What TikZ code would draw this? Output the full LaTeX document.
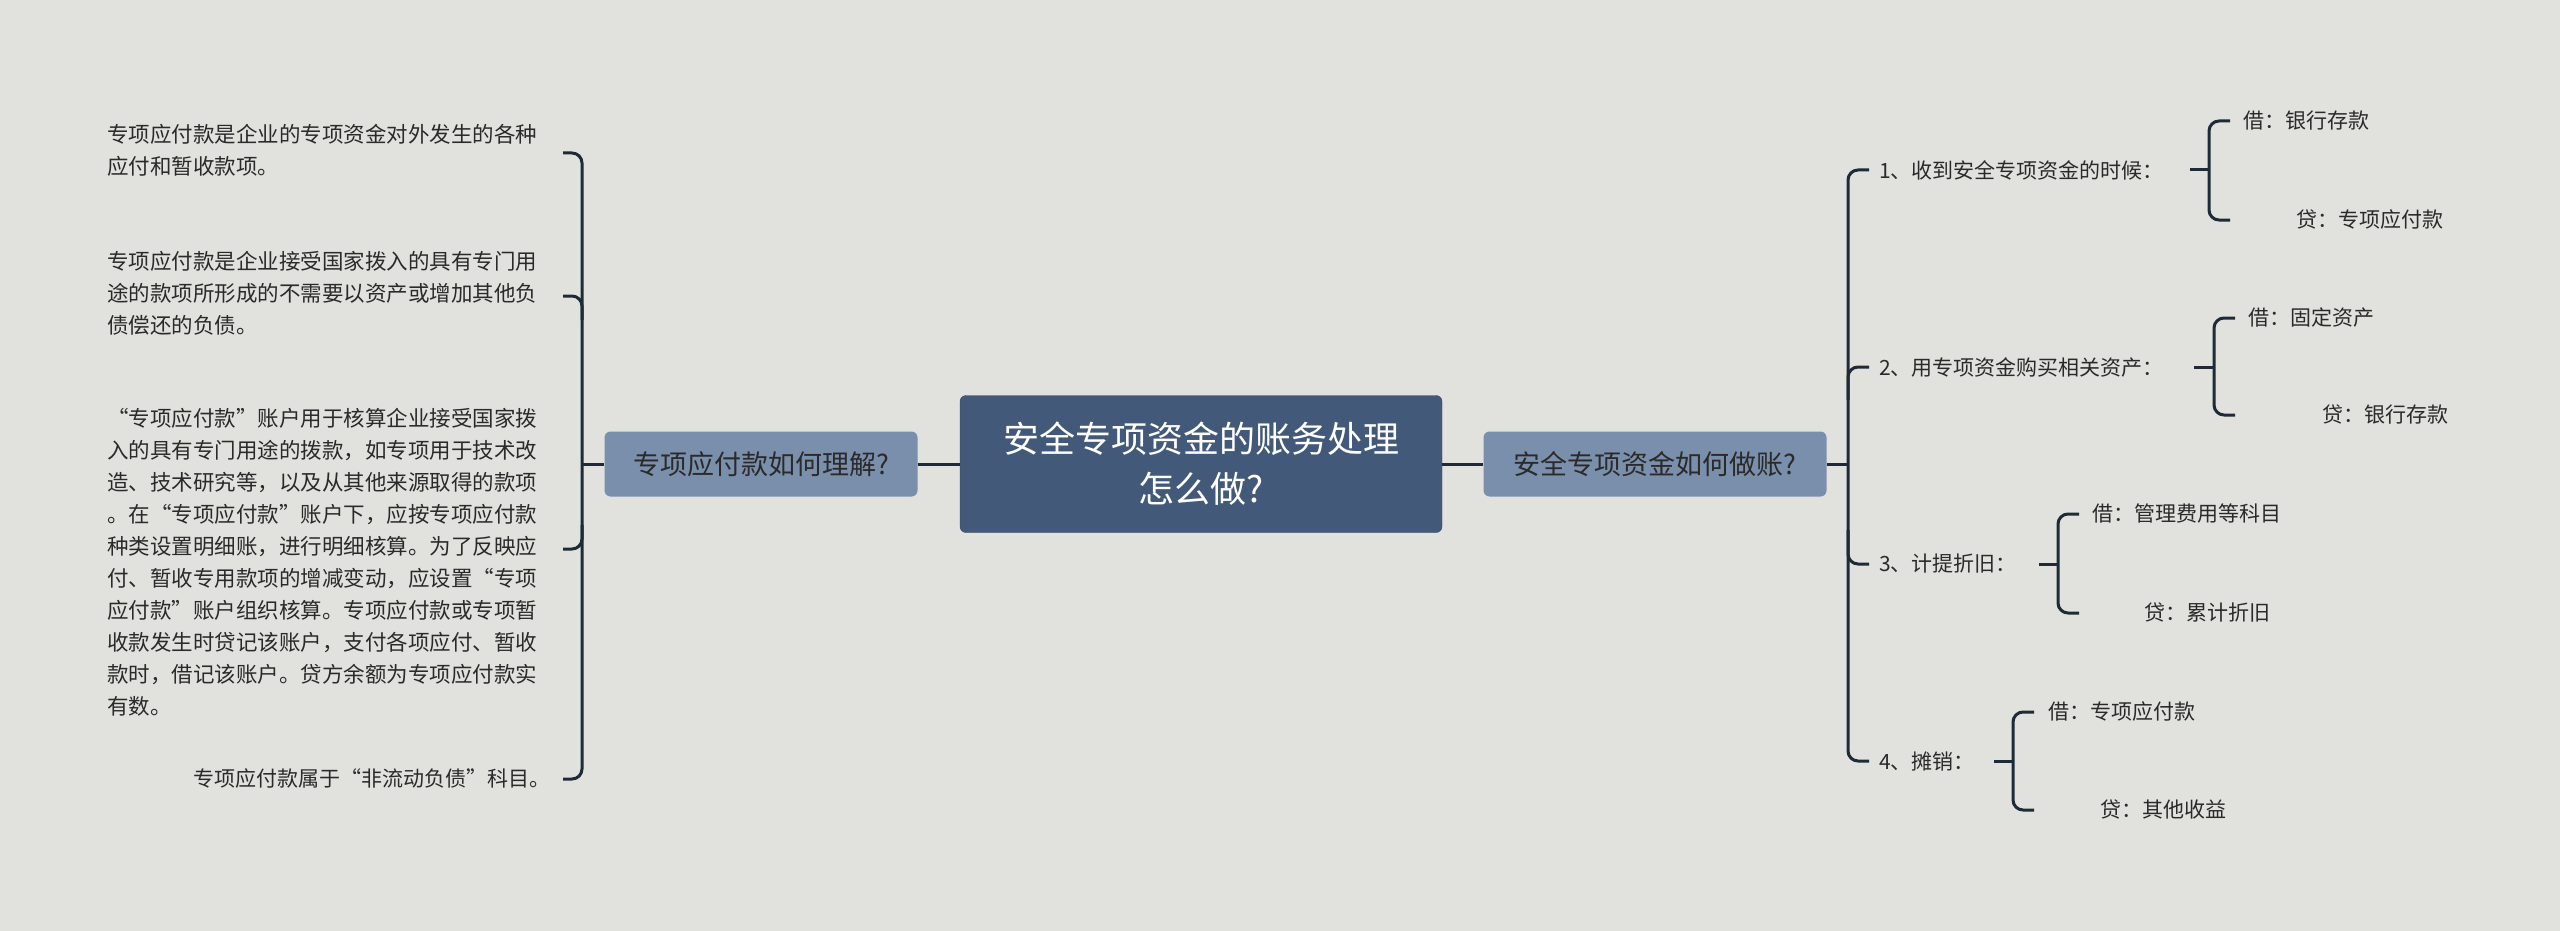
\documentclass[tikz,border=0pt]{standalone}
\usepackage{fontspec}
\setmainfont{Noto Sans CJK SC}
\begin{document}
\begin{tikzpicture}[x=1pt,y=-1pt,
  conn/.style={draw=lineC,line width=3pt,rounded corners=10pt},
  leaf/.style={inner sep=0pt,font=\fontsize{21}{32}\selectfont,text=textC},
  lblock/.style={inner sep=0pt,font=\fontsize{21.5}{32}\selectfont,text=textC,align=left,anchor=north west},
]
\definecolor{bgC}{HTML}{E1E2DD}
\definecolor{lineC}{HTML}{1E2A38}
\definecolor{textC}{HTML}{2A2A2A}
\definecolor{mainC}{HTML}{43597A}
\definecolor{subC}{HTML}{7A8FAB}
\fill[bgC] (0,0) rectangle (2560,931);
\useasboundingbox (0,0) rectangle (2560,931);
% centre and branch nodes
\node[fill=mainC,draw=mainC!80!black,rounded corners=6pt,minimum width=482pt,minimum height=137pt,inner sep=0pt,text=white,align=center,font=\fontsize{36}{50}\selectfont] (c) at (1201,464) {安全专项资金的账务处理\\怎么做?};
\node[fill=subC,rounded corners=6pt,minimum width=313pt,minimum height=65pt,inner sep=0pt,text=textC,font=\fontsize{27}{32}\selectfont] (l) at (761,464) {专项应付款如何理解?};
\node[fill=subC,rounded corners=6pt,minimum width=343pt,minimum height=65pt,inner sep=0pt,text=textC,font=\fontsize{27}{32}\selectfont] (r) at (1655,464) {安全专项资金如何做账?};
\draw[conn] (l.east) -- (c.west);
\draw[conn] (c.east) -- (r.west);
% left leaves
\node[lblock] (a1) at (107,124) {专项应付款是企业的专项资金对外发生的各种\\应付和暂收款项。};
\node[lblock] (a2) at (107,251) {专项应付款是企业接受国家拨入的具有专门用\\途的款项所形成的不需要以资产或增加其他负\\债偿还的负债。};
\node[lblock] (a3) at (107,408) {“专项应付款”账户用于核算企业接受国家拨\\入的具有专门用途的拨款，如专项用于技术改\\造、技术研究等，以及从其他来源取得的款项\\。在“专项应付款”账户下，应按专项应付款\\种类设置明细账，进行明细核算。为了反映应\\付、暂收专用款项的增减变动，应设置“专项\\应付款”账户组织核算。专项应付款或专项暂\\收款发生时贷记该账户，支付各项应付、暂收\\款时，借记该账户。贷方余额为专项应付款实\\有数。};
\node[leaf,anchor=east] (a4) at (551,779) {专项应付款属于“非流动负债”科目。};
\coordinate (lb) at (582,464);
\draw[conn] (l.west) -- (lb);
\draw[conn] (563,153) -- (582,153) -- (582,779) -- (563,779);
\draw[conn] (563,296) -- (582,296) -- (582,320);
\draw[conn] (563,549) -- (582,549) -- (582,525);
% right side
\coordinate (rb) at (1848,464);
\draw[conn] (r.east) -- (rb);
\draw[conn] (1869,170) -- (1848,170) -- (1848,761) -- (1869,761);
\draw[conn] (1869,367) -- (1848,367) -- (1848,400);
\draw[conn] (1869,564) -- (1848,564) -- (1848,530);
\node[leaf,anchor=west] (i1) at (1879,170) {1、收到安全专项资金的时候：};
\node[leaf,anchor=west] (i2) at (1879,367) {2、用专项资金购买相关资产：};
\node[leaf,anchor=west] (i3) at (1879,564) {3、计提折旧：};
\node[leaf,anchor=west] (i4) at (1879,761) {4、摊销：};
% sub brackets
\newcommand{\subbr}[5]{% xline start, bracket x, ytop, ymid, ybot
  \draw[conn] (#1,#4) -- (#2,#4);
  \draw[conn] (#2+21,#3) -- (#2,#3) -- (#2,#5) -- (#2+21,#5);}
\subbr{2190}{2209}{121}{170}{220}
\subbr{2194}{2214}{318}{367}{415}
\subbr{2039}{2058}{514}{564}{613}
\subbr{1994}{2013}{712}{761}{810}
\node[leaf,anchor=west] (s1a) at (2243,121) {借：银行存款};
\node[leaf,anchor=west] (s1b) at (2296,220) {贷：专项应付款};
\node[leaf,anchor=west] (s2a) at (2248,318) {借：固定资产};
\node[leaf,anchor=west] (s2b) at (2322,415) {贷：银行存款};
\node[leaf,anchor=west] (s3a) at (2092,514) {借：管理费用等科目};
\node[leaf,anchor=west] (s3b) at (2144,613) {贷：累计折旧};
\node[leaf,anchor=west] (s4a) at (2048,712) {借：专项应付款};
\node[leaf,anchor=west] (s4b) at (2100,810) {贷：其他收益};
\end{tikzpicture}
\end{document}
